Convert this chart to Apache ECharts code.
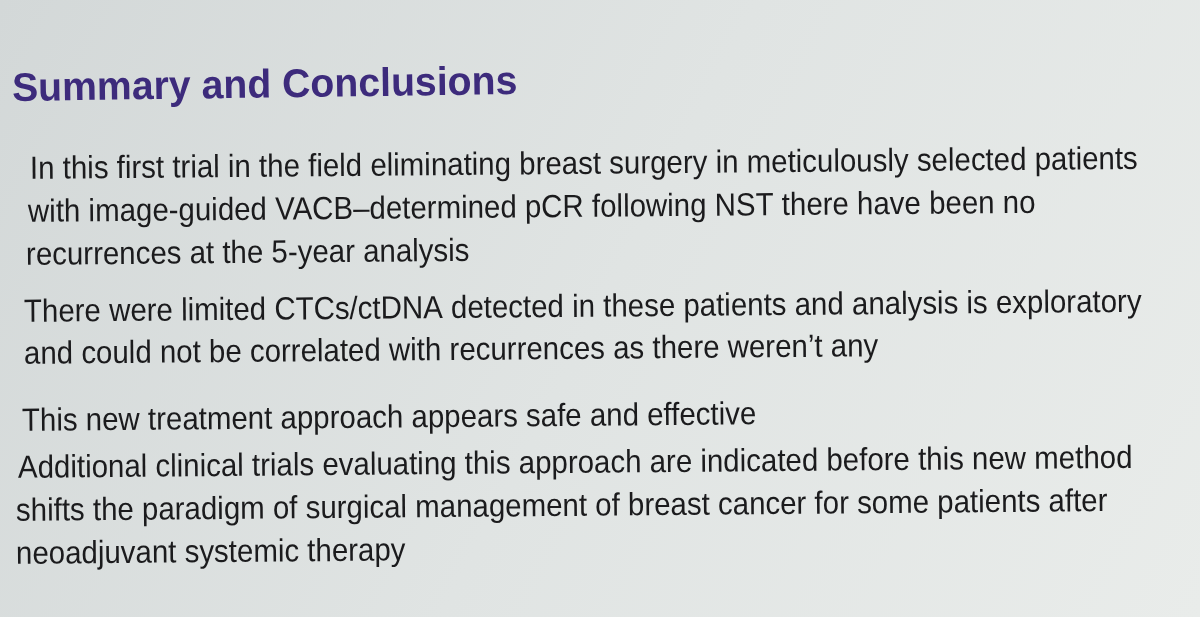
<!DOCTYPE html>
<html><head><meta charset="utf-8">
<script src="https://cdn.jsdelivr.net/npm/echarts@6/dist/echarts.min.js"></script>
<style>html,body{margin:0;padding:0}#c{width:1200px;height:617px}</style>
</head><body><div id="c"></div>
<script>
const title = "Summary and Conclusions";
const lines = [
 "In this first trial in the field eliminating breast surgery in meticulously selected patients",
 "with image-guided VACB\u2013determined pCR following NST there have been no",
 "recurrences at the 5-year analysis",
 "There were limited CTCs/ctDNA detected in these patients and analysis is exploratory",
 "and could not be correlated with recurrences as there weren\u2019t any",
 "This new treatment approach appears safe and effective",
 "Additional clinical trials evaluating this approach are indicated before this new method",
 "shifts the paradigm of surgical management of breast cancer for some patients after",
 "neoadjuvant systemic therapy"
];
const lineX = [30,28,26,24,24,22,18,16,16];
const lineY = [170,213,256,313,355,422,469,512,555];
const chart = echarts.init(document.getElementById('c'));
const g = [{type:'rect',shape:{x:0,y:0,width:1200,height:617},
  style:{fill:new echarts.graphic.LinearGradient(0,0,1,1,[{offset:0,color:'#d3d8d8'},{offset:0.5,color:'#e0e4e3'},{offset:1,color:'#e9ecea'}])}},
 {type:'text',x:12,y:90,rotation:0.014,scaleX:0.98,style:{text:title,font:'bold 40px "Liberation Sans", Arial',fill:'#3d2b7c',verticalAlign:'middle'}}];
lines.forEach((t,i)=>g.push({type:'text',x:lineX[i],y:lineY[i],rotation:0.009,scaleX:0.92,
  style:{text:t,font:'32px "Liberation Sans", Arial',fill:'#1b1b1d',verticalAlign:'middle'}}));
chart.setOption({animation:false,graphic:g});
</script></body></html>
